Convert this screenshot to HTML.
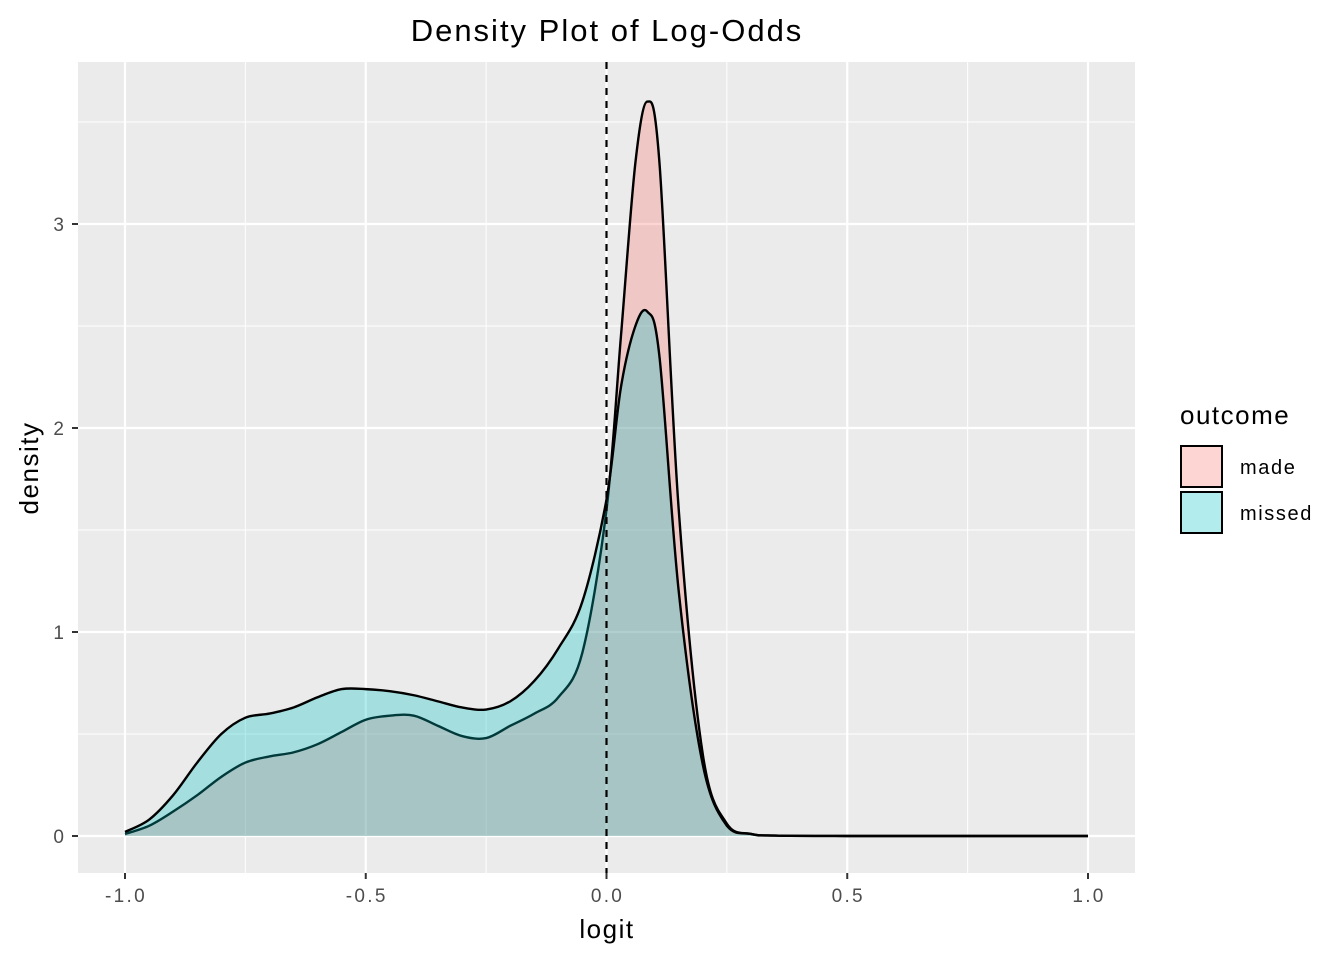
<!DOCTYPE html>
<html><head><meta charset="utf-8"><style>
body{margin:0;background:#fff;}
text{font-family:"Liberation Sans",sans-serif;}
</style></head><body>
<svg id="chart" width="1344" height="960" xmlns="http://www.w3.org/2000/svg">
<rect width="1344" height="960" fill="#fff"/>
<rect x="78" y="62" width="1057" height="811" fill="#EBEBEB"/>
<g id="grid"></g>
<g id="areas"></g>
<line id="vline" stroke="#000" stroke-width="2.2" stroke-dasharray="7,6"/>
<g id="axes"></g>
<text x="607" y="41" font-size="31" letter-spacing="2" text-anchor="middle">Density Plot of Log-Odds</text>
<text x="607" y="938" font-size="26" letter-spacing="1.5" text-anchor="middle">logit</text>
<text transform="translate(38,468) rotate(-90)" font-size="26" letter-spacing="1.5" text-anchor="middle">density</text>
<g>
<text x="1180" y="424" font-size="26" letter-spacing="1.5">outcome</text>
<rect x="1181" y="446" width="41" height="41" fill="#F8766D" fill-opacity="0.3" stroke="#000" stroke-width="2"/>
<text x="1240" y="474" font-size="20" letter-spacing="1.6">made</text>
<rect x="1181" y="492" width="41" height="41" fill="#00BFC4" fill-opacity="0.3" stroke="#000" stroke-width="2"/>
<text x="1240" y="520" font-size="20" letter-spacing="1.6">missed</text>
</g>
</svg>
<script>
const xTicks=[-1,-0.5,0,0.5,1];
const xTickLabels=["-1.0","-0.5","0.0","0.5","1.0"];
const yTicks=[0,1,2,3];
const yTickLabels=["0","1","2","3"];
const logitX=[-1,-0.95,-0.9,-0.85,-0.8,-0.75,-0.7,-0.65,-0.6,-0.55,-0.5,-0.45,-0.4,-0.35,-0.3,-0.25,-0.2,-0.15,-0.1,-0.05,0,0.03,0.06,0.085,0.11,0.15,0.2,0.25,0.3,0.35,0.5,0.75,1];
const madeDensity=[0.01,0.05,0.12,0.2,0.29,0.36,0.39,0.41,0.45,0.51,0.57,0.59,0.59,0.54,0.49,0.48,0.54,0.6,0.68,0.9,1.6,2.45,3.3,3.6,3.3,1.6,0.4,0.06,0.01,0.002,0,0,0];
const missedDensity=[0.02,0.08,0.2,0.36,0.5,0.58,0.6,0.63,0.68,0.72,0.72,0.71,0.69,0.66,0.63,0.62,0.66,0.76,0.92,1.15,1.65,2.2,2.5,2.57,2.35,1.2,0.35,0.05,0.01,0.002,0,0,0];
const X=v=>606.5+v*481.5, Y=v=>836-v*204;
const NS="http://www.w3.org/2000/svg";
function mk(t,a,p){const e=document.createElementNS(NS,t);for(const k in a)e.setAttribute(k,a[k]);p.appendChild(e);return e;}
const grid=document.getElementById('grid'),axes=document.getElementById('axes'),areas=document.getElementById('areas');
[-0.75,-0.25,0.25,0.75].forEach(v=>{const l=mk('line',{x1:X(v),x2:X(v),y1:62,y2:873,stroke:'#fff','stroke-width':1},grid);});
[0.5,1.5,2.5,3.5].forEach(v=>{const l=mk('line',{x1:78,x2:1135,y1:Y(v),y2:Y(v),stroke:'#fff','stroke-width':1},grid);});
xTicks.forEach((v,i)=>{const l=mk('line',{x1:X(v),x2:X(v),y1:62,y2:873,stroke:'#fff','stroke-width':2.2},grid);
const t=mk('line',{x1:X(v),x2:X(v),y1:873,y2:879,stroke:'#333','stroke-width':2},axes);
const tx=mk('text',{x:X(v)+1,y:902,'font-size':19,'letter-spacing':2.3,fill:'#4D4D4D','text-anchor':'middle'},axes);tx.textContent=xTickLabels[i];});
yTicks.forEach((v,i)=>{const l=mk('line',{x1:78,x2:1135,y1:Y(v),y2:Y(v),stroke:'#fff','stroke-width':2.2},grid);
const t=mk('line',{x1:72,x2:78,y1:Y(v),y2:Y(v),stroke:'#333','stroke-width':2},axes);
const tx=mk('text',{x:64,y:Y(v)+7,'font-size':19,fill:'#4D4D4D','text-anchor':'end'},axes);tx.textContent=yTickLabels[i];});
function curve(ys){const p=logitX.map((x,i)=>[X(x),Y(ys[i])]);let d='M'+p[0][0]+','+p[0][1];
for(let i=0;i<p.length-1;i++){const p0=p[Math.max(i-1,0)],p1=p[i],p2=p[i+1],p3=p[Math.min(i+2,p.length-1)];
let c1y=p1[1]+(p2[1]-p0[1])/6,c2y=p2[1]-(p3[1]-p1[1])/6;c1y=Math.min(c1y,836);c2y=Math.min(c2y,836);
d+=` C${p1[0]+(p2[0]-p0[0])/6},${c1y} ${p2[0]-(p3[0]-p1[0])/6},${c2y} ${p2[0]},${p2[1]}`;}return d;}
[[madeDensity,'#F8766D','made'],[missedDensity,'#00BFC4','missed']].forEach(([ys,c,n])=>{
const d=curve(ys);const a=mk('path',{d:d+` L${X(1)},${Y(0)} L${X(-1)},${Y(0)} Z`,fill:c,'fill-opacity':0.3},areas);

const l=mk('path',{d:d,fill:'none',stroke:'#000','stroke-width':2.4},areas);});
const v=document.getElementById('vline');v.setAttribute('x1',X(0));v.setAttribute('x2',X(0));v.setAttribute('y1',62);v.setAttribute('y2',873);
</script>
</body></html>
